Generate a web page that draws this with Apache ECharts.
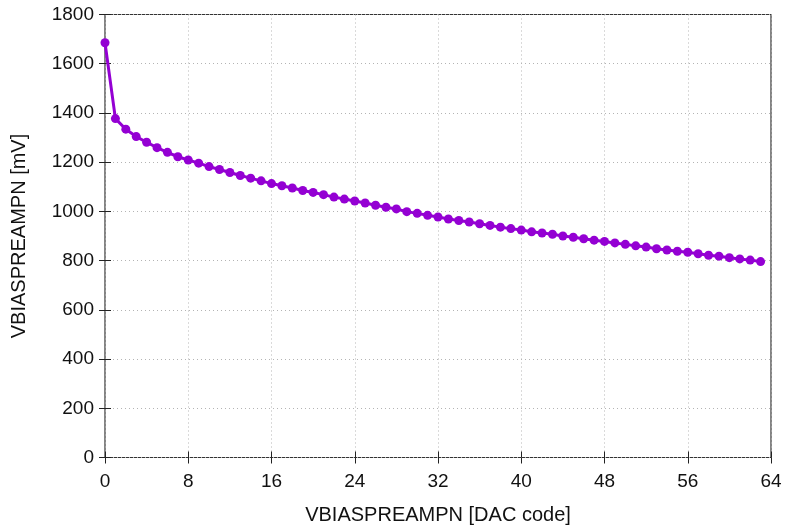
<!DOCTYPE html>
<html>
<head>
<meta charset="utf-8">
<script src="https://cdn.jsdelivr.net/npm/echarts@6/dist/echarts.min.js"></script>
<style>
  html, body { margin: 0; padding: 0; background: #fff; }
  #chart { width: 788px; height: 526px; }
</style>
</head>
<body>
<div id="chart"></div>
<script>
// DAC codes and measured voltages (mV)
var dacCodes = [
  0, 1, 2, 3, 4, 5, 6, 7, 8, 9, 10, 11, 12, 13, 14, 15,
  16, 17, 18, 19, 20, 21, 22, 23, 24, 25, 26, 27, 28, 29, 30, 31,
  32, 33, 34, 35, 36, 37, 38, 39, 40, 41, 42, 43, 44, 45, 46, 47,
  48, 49, 50, 51, 52, 53, 54, 55, 56, 57, 58, 59, 60, 61, 62, 63
]
var vbiasMv = [
  1685, 1377, 1334, 1304, 1281, 1259, 1240, 1222, 1209, 1196, 1182, 1170, 1158, 1146, 1135, 1124,
  1113, 1104, 1095, 1085, 1077, 1068, 1058, 1050, 1042, 1034, 1025, 1017, 1010, 999, 992, 984,
  977, 969, 963, 957, 950, 943, 936, 930, 924, 917, 912, 907, 900, 895, 889, 883,
  878, 872, 866, 860, 855, 848, 843, 838, 834, 828, 822, 818, 812, 807, 802, 796
]
var xTicks = { min: 0, max: 64, step: 8 }
var yTicks = { min: 0, max: 1800, step: 200 }

var chart = echarts.init(document.getElementById('chart'))

var font = 'Liberation Sans, Arial, sans-serif'
var gridLine = { show: true, lineStyle: { color: '#b4b4b4', type: [1, 3], width: 1 } }
var tickStyle = { show: true, inside: true, length: 6, lineStyle: { color: '#222' } }

var option = {
  animation: false,
  backgroundColor: '#fff',
  grid: {
    left: 105, right: 17, top: 14.5, bottom: 68.5,
    outerBoundsMode: 'none',
    containLabel: false,
    show: true, borderColor: '#333', borderWidth: 1.2
  },
  xAxis: [{
    type: 'value',
    min: xTicks.min, max: xTicks.max, interval: xTicks.step,
    name: 'VBIASPREAMPN [DAC code]',
    nameLocation: 'middle',
    nameGap: 48,
    nameTextStyle: { fontFamily: font, fontSize: 20, color: '#111' },
    axisLine: { show: false },
    axisTick: tickStyle,
    axisLabel: { fontFamily: font, fontSize: 19, color: '#111', margin: 15 },
    splitLine: gridLine
  }, {
    type: 'value', position: 'top',
    min: xTicks.min, max: xTicks.max, interval: xTicks.step,
    axisLine: { show: false },
    axisTick: tickStyle,
    axisLabel: { show: false },
    splitLine: { show: false }
  }],
  yAxis: [{
    type: 'value',
    min: yTicks.min, max: yTicks.max, interval: yTicks.step,
    name: 'VBIASPREAMPN [mV]',
    nameLocation: 'middle',
    nameGap: 76,
    nameTextStyle: { fontFamily: font, fontSize: 20, color: '#111' },
    axisLine: { show: false },
    axisTick: tickStyle,
    axisLabel: {
      fontFamily: font, fontSize: 19, color: '#111', margin: 11,
      formatter: function (v) { return String(v) }
    },
    splitLine: gridLine
  }, {
    type: 'value', position: 'right',
    min: yTicks.min, max: yTicks.max, interval: yTicks.step,
    axisLine: { show: false },
    axisTick: tickStyle,
    axisLabel: { show: false },
    splitLine: { show: false }
  }],
  series: [{
    type: 'line',
    data: dacCodes.map(function (c, i) { return [c, vbiasMv[i]] }),
    symbol: 'circle',
    symbolSize: 9,
    showAllSymbol: true,
    lineStyle: { color: '#9400d3', width: 3 },
    itemStyle: { color: '#9400d3' }
  }]
}

chart.setOption(option)
</script>
</body>
</html>
